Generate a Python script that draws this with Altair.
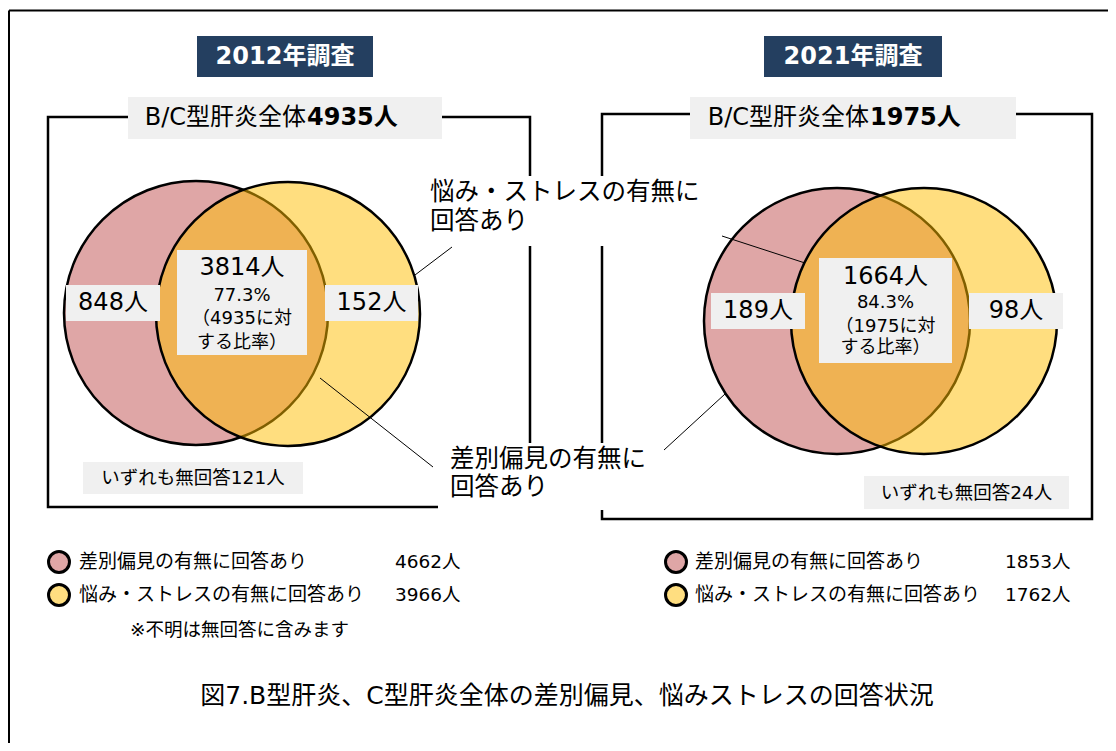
import altair as alt
import pandas as pd

# ---------------- data ----------------
surveys = ["2012年調査", "2021年調査"]
totals = [4935, 1975]
only_discrim = [848, 189]
both_answered = [3814, 1664]
only_stress = [152, 98]
no_answer = [121, 24]
both_pct = [77.3, 84.3]
discrim_totals = [4662, 1853]
stress_totals = [3966, 1762]
set_names = ["差別偏見の有無に回答あり", "悩み・ストレスの有無に回答あり"]
callout_stress = ["悩み・ストレスの有無に", "回答あり"]
callout_discrim = ["差別偏見の有無に", "回答あり"]
note = "※不明は無回答に含みます"
caption = "図7.B型肝炎、C型肝炎全体の差別偏見、悩みストレスの回答状況"

# ---------------- layout (page pixels) ----------------
FONT = "DejaVu Sans, Noto Sans CJK JP"
PINK = "#DFA6A6"
YELLOW = "#FFBD00"
YELLOW_LEGEND = "#FFDE80"
BOX = "#F0F0F0"
NAVY = "#243F60"

panels = [
    dict(title_box=(197, 373, 36, 77), frame=(48, 530, 117, 507), label_box=(128, 442, 97, 139),
         label_split=306, circles=((196, 313), (288, 314)), r=132, mid_box=(177, 307, 250, 355),
         mid_y=(268, 296, 319, 343), left_box=(66, 160, 285, 321), right_box=(325, 418, 285, 321),
         na_box=(83, 303, 462, 494), lg_x=59, lg_tx=79, lg_vx=395, lg_y=(562, 595)),
    dict(title_box=(764, 942, 36, 77), frame=(602, 1092, 114, 519), label_box=(690, 1016, 97, 139),
         label_split=869, circles=((837, 321), (924, 321)), r=133, mid_box=(819, 952, 258, 363),
         mid_y=(277, 303, 327, 348), left_box=(711, 805, 293, 329), right_box=(969, 1063, 293, 329),
         na_box=(864, 1069, 476, 509), lg_x=676, lg_tx=695, lg_vx=1005, lg_y=(562, 595)),
]
masks = [(425, 708, 176, 246), (438, 655, 443, 510)]
callout_lines = [(452, 247, 415, 275), (320, 378, 433, 467), (722, 236, 805, 263), (725, 394, 664, 450)]
callout_pos = [(430, 193, 222), (450, 460, 488)]
frame_lines = [(9, 10.5, 1108, 10.5), (9, 10.5, 9, 743)]
note_pos = (130, 630)
caption_pos = (567, 696)

# ---------------- tables ----------------
frames, boxes, navy, pts, lpts, rules = [], [], [], [], [], []
t_white, t_right, t_leftbold, t_center, t_left = [], [], [], [], []

for i, p in enumerate(panels):
    x0, x1, y0, y1 = p["title_box"]
    navy.append(dict(x=x0, x2=x1, y=y0, y2=y1))
    t_white.append(dict(x=(x0 + x1) / 2, y=(y0 + y1) / 2, t=surveys[i], fs=24))
    fx0, fx1, fy0, fy1 = p["frame"]
    frames.append(dict(x=fx0, x2=fx1, y=fy0, y2=fy1))
    for key in ["label_box", "mid_box", "left_box", "right_box", "na_box"]:
        a, b, c, d = p[key]
        boxes.append(dict(x=a, x2=b, y=c, y2=d))
    lb = p["label_box"]
    ly = (lb[2] + lb[3]) / 2
    t_right.append(dict(x=p["label_split"], y=ly, t="B/C型肝炎全体", fs=24))
    t_leftbold.append(dict(x=p["label_split"] + 1, y=ly, t=f"{totals[i]}人", fs=24))
    (cx1, cy1), (cx2, cy2) = p["circles"]
    d = (2 * p["r"]) ** 2
    pts.append(dict(x=cx1, y=cy1, size=d, k=0))
    pts.append(dict(x=cx2, y=cy2, size=d, k=1))
    mb = p["mid_box"]
    mx = (mb[0] + mb[1]) / 2
    mid_texts = [f"{both_answered[i]}人", f"{both_pct[i]}%", f"（{totals[i]}に対", "する比率）"]
    for j, (tt, yy) in enumerate(zip(mid_texts, p["mid_y"])):
        t_center.append(dict(x=mx, y=yy, t=tt, fs=24 if j == 0 else 18))
    for key, val in [("left_box", only_discrim[i]), ("right_box", only_stress[i])]:
        a, b, c, dd = p[key]
        t_center.append(dict(x=(a + b) / 2, y=(c + dd) / 2, t=f"{val}人", fs=24))
    a, b, c, dd = p["na_box"]
    t_center.append(dict(x=(a + b) / 2, y=(c + dd) / 2, t=f"いずれも無回答{no_answer[i]}人", fs=18.5))
    for j, (nm, val, col) in enumerate(zip(set_names, [discrim_totals[i], stress_totals[i]], [PINK, YELLOW_LEGEND])):
        lpts.append(dict(x=p["lg_x"], y=p["lg_y"][j], fill=col))
        t_left.append(dict(x=p["lg_tx"], y=p["lg_y"][j], t=nm, fs=19))
        t_left.append(dict(x=p["lg_vx"], y=p["lg_y"][j], t=f"{val}人", fs=18.5))

for (cx, ya, yb), lines in zip(callout_pos, [callout_stress, callout_discrim]):
    t_left.append(dict(x=cx, y=ya, t=lines[0], fs=24.5))
    t_left.append(dict(x=cx, y=yb, t=lines[1], fs=24.5))
t_left.append(dict(x=note_pos[0], y=note_pos[1], t=note, fs=18.5))
t_center.append(dict(x=caption_pos[0], y=caption_pos[1], t=caption, fs=25))

for a, b, c, d in callout_lines:
    rules.append(dict(x=a, y=b, x2=c, y2=d, w=1))
for a, b, c, d in frame_lines:
    rules.append(dict(x=a, y=b, x2=c, y2=d, w=2))
mask_df = pd.DataFrame([dict(x=a, x2=b, y=c, y2=d) for a, b, c, d in masks])

# ---------------- encodings ----------------
XS = alt.Scale(domain=[8, 1108], nice=False, zero=False)
YS = alt.Scale(domain=[8, 743], nice=False, zero=False, reverse=True)


def X():
    return alt.X("x:Q", scale=XS, axis=None)


def Y():
    return alt.Y("y:Q", scale=YS, axis=None)


def rect_layer(rows, **mk):
    return alt.Chart(pd.DataFrame(rows)).mark_rect(**mk).encode(x=X(), x2="x2:Q", y=Y(), y2="y2:Q")


def text_layer(rows, **mk):
    return alt.Chart(pd.DataFrame(rows)).mark_text(font=FONT, baseline="middle", color="black", **mk).encode(
        x=X(), y=Y(), text="t:N", size=alt.Size("fs:Q", scale=None))


frame_layer = rect_layer(frames, fill="transparent", stroke="black", strokeWidth=2.5)
mask_layer = alt.Chart(mask_df).mark_rect(fill="white").encode(x=X(), x2="x2:Q", y=Y(), y2="y2:Q")
navy_layer = rect_layer(navy, fill=NAVY)
box_layer = rect_layer(boxes, fill=BOX)

pts_df = pd.DataFrame(pts)
pink_layer = alt.Chart(pts_df[pts_df.k == 0]).mark_point(
    shape="circle", filled=True, stroke="black", strokeWidth=2.5, opacity=1, fillOpacity=1, fill=PINK
).encode(x=X(), y=Y(), size=alt.Size("size:Q", scale=None))
yellow_layer = alt.Chart(pts_df[pts_df.k == 1]).mark_point(
    shape="circle", filled=True, stroke="black", strokeWidth=2.5, opacity=1, fillOpacity=0.5, fill=YELLOW
).encode(x=X(), y=Y(), size=alt.Size("size:Q", scale=None))
legend_layer = alt.Chart(pd.DataFrame(lpts)).mark_point(
    shape="circle", filled=True, stroke="black", strokeWidth=3, opacity=1, size=440
).encode(x=X(), y=Y(), fill=alt.Fill("fill:N", scale=None))

rules_df = pd.DataFrame(rules)
rule_thin = alt.Chart(rules_df[rules_df.w == 1]).mark_rule(color="black", strokeWidth=1).encode(
    x=X(), y=Y(), x2="x2:Q", y2="y2:Q")
rule_thick = alt.Chart(rules_df[rules_df.w == 2]).mark_rule(color="black", strokeWidth=2).encode(
    x=X(), y=Y(), x2="x2:Q", y2="y2:Q")

layers = [
    rule_thick,
    frame_layer,
    mask_layer,
    pink_layer,
    yellow_layer,
    navy_layer,
    box_layer,
    rule_thin,
    legend_layer,
    text_layer(t_white, align="center", fontWeight="bold").encode(color=alt.value("white")),
    text_layer(t_right, align="right"),
    text_layer(t_leftbold, align="left", fontWeight="bold"),
    text_layer(t_center, align="center"),
    text_layer(t_left, align="left"),
]

chart = alt.layer(*layers).properties(
    width=1100, height=735, padding=0, autosize=alt.AutoSizeParams(type="none")
).configure_view(strokeWidth=0)

chart.save("out.html", embed_options={"renderer": "svg", "actions": False})
